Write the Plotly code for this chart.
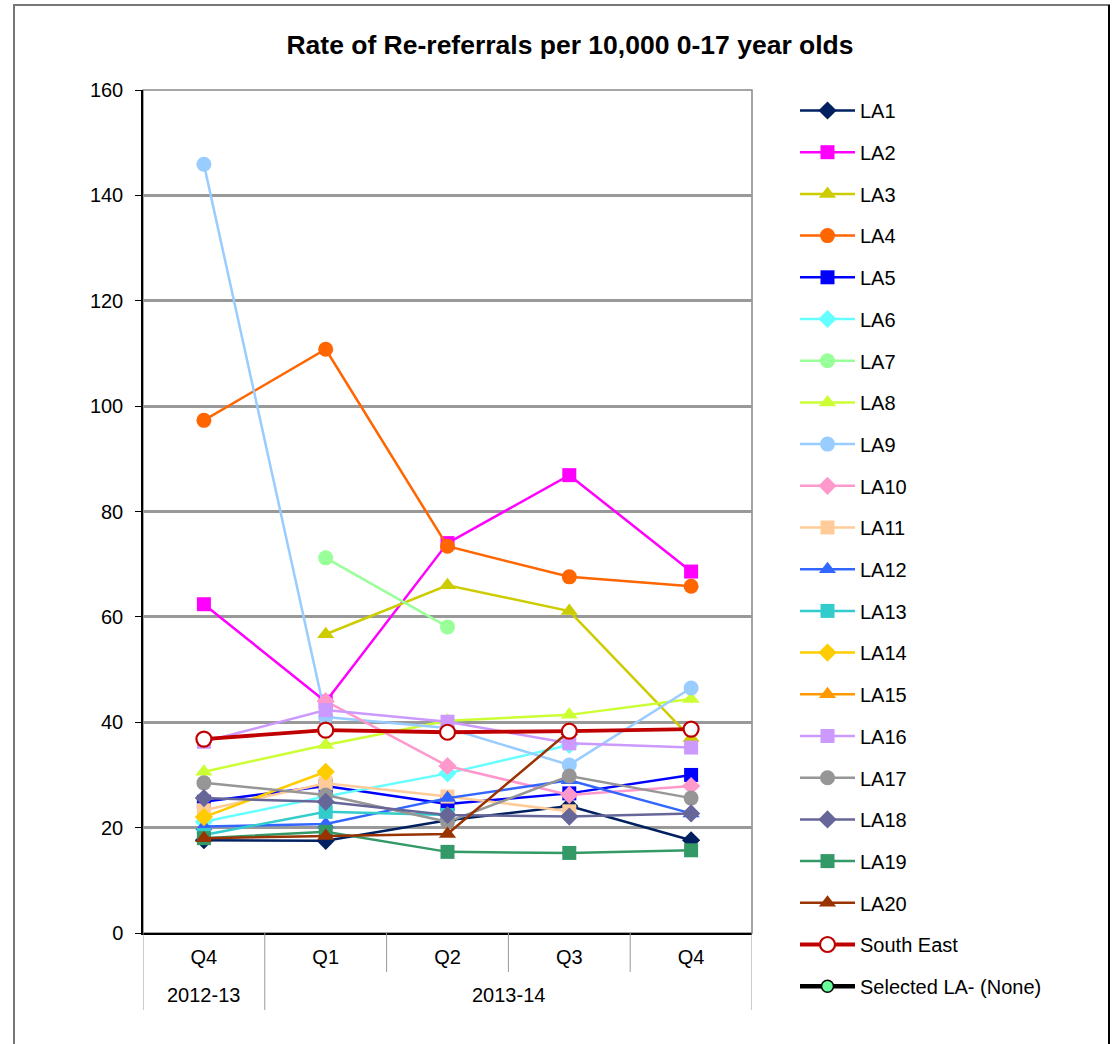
import plotly.graph_objects as go

years = ["2012-13", "2013-14", "2013-14", "2013-14", "2013-14"]
quarters = ["Q4", "Q1", "Q2", "Q3", "Q4"]

la1 = [17.6, 17.5, 21.4, 24.1, 17.6]
la2 = [62.4, 43.9, 74.0, 86.9, 68.6]
la3 = [None, 56.7, 66.0, 61.1, 37.0]
la4 = [97.3, 110.8, 73.4, 67.6, 65.8]
la5 = [24.9, 27.9, 24.5, 26.5, 30.0]
la6 = [21.1, 25.9, 30.3, 35.7, None]
la7 = [None, 71.2, 58.1, None, None]
la8 = [30.6, 35.7, 40.3, 41.4, 44.4]
la9 = [145.9, 41.0, 38.9, 31.9, 46.5]
la10 = [None, 44.0, 31.7, 26.2, 27.9]
la11 = [23.3, 28.4, 25.9, 23.1, None]
la12 = [20.2, 20.7, 25.6, 29.0, 22.7]
la13 = [18.6, 23.0, 22.4, None, None]
la14 = [22.0, 30.6, None, None, None]
la15 = [None, None, None, None, None]
la16 = [36.3, 42.3, 40.1, 36.0, 35.2]
la17 = [28.5, 26.2, 21.1, 29.8, 25.6]
la18 = [25.6, 24.9, 22.4, 22.1, 22.7]
la19 = [18.0, 19.2, 15.4, 15.2, 15.7]
la20 = [18.0, 18.4, 18.8, 38.3, None]
south_east = [36.8, 38.5, 38.1, 38.3, 38.7]
selected = [None, None, None, None, None]

series = [
    ("LA1", la1, "#002060", "diamond", 14),
    ("LA2", la2, "#FF00FF", "square", 14),
    ("LA3", la3, "#CCCC00", "triangle-up", 15),
    ("LA4", la4, "#FF6600", "circle", 15),
    ("LA5", la5, "#0000FF", "square", 14),
    ("LA6", la6, "#66FFFF", "diamond", 14),
    ("LA7", la7, "#99FF99", "circle", 15),
    ("LA8", la8, "#CCFF33", "triangle-up", 15),
    ("LA9", la9, "#99CCFF", "circle", 15),
    ("LA10", la10, "#FF99CC", "diamond", 14),
    ("LA11", la11, "#FFCC99", "square", 14),
    ("LA12", la12, "#3366FF", "triangle-up", 15),
    ("LA13", la13, "#33CCCC", "square", 14),
    ("LA14", la14, "#FFCC00", "diamond", 14),
    ("LA15", la15, "#FF9900", "triangle-up", 15),
    ("LA16", la16, "#CC99FF", "square", 14),
    ("LA17", la17, "#969696", "circle", 15),
    ("LA18", la18, "#666699", "diamond", 14),
    ("LA19", la19, "#339966", "square", 14),
    ("LA20", la20, "#993300", "triangle-up", 15),
]

# unique category keys built from year + quarter; quarters shown as tick text
cats = [f"{y} {q}" for y, q in zip(years, quarters)]

fig = go.Figure()
for name, vals, col, sym, sz in series:
    fig.add_trace(go.Scatter(
        x=cats, y=vals, name=name, mode="lines+markers",
        line=dict(color=col, width=2.5),
        marker=dict(symbol=sym, size=sz, color=col),
        legendgroup=name, connectgaps=False,
    ))

fig.add_trace(go.Scatter(
    x=cats, y=south_east, name="South East", mode="lines+markers",
    line=dict(color="#C00000", width=3.8),
    marker=dict(symbol="circle", size=15, color="white", line=dict(color="#C00000", width=2.2)),
    legendgroup="South East",
))
fig.add_trace(go.Scatter(
    x=cats, y=selected, name="Selected LA- (None)", mode="lines+markers",
    line=dict(color="black", width=4.5),
    marker=dict(symbol="circle", size=12, color="#66FF99", line=dict(color="black", width=1.5)),
    legendgroup="Selected",
))

L, R, T, B = 143, 752, 90, 933
W, H = 1112, 1044
pw, ph = R - L, B - T

def px_x(p):
    return (p - L) / pw

def px_y(p):
    return (B - p) / ph

fig.update_layout(
    width=W, height=H,
    margin=dict(l=L, r=W - R, t=T, b=H - B),
    paper_bgcolor="white", plot_bgcolor="white",
    font=dict(family="Liberation Sans, Arial, sans-serif", size=20, color="black"),
    title=dict(text="<b>Rate of Re-referrals per 10,000 0-17 year olds</b>",
               x=570 / W, xanchor="center", y=1 - 45 / H, yanchor="middle",
               font=dict(size=26.5, color="black")),
    showlegend=True,
    legend=dict(x=px_x(795), xanchor="left", y=px_y(91), yanchor="top",
                traceorder="grouped", tracegroupgap=12.7, itemwidth=55,
                maxheight=1040,
                font=dict(size=20), bgcolor="rgba(0,0,0,0)"),
    xaxis=dict(type="category", categoryorder="array", categoryarray=cats,
               tickmode="array", tickvals=cats, ticktext=quarters,
               showline=True, linecolor="black", linewidth=1.5,
               ticks="outside", ticklen=5, tickcolor="rgba(0,0,0,0)",
               showgrid=False, tickfont=dict(size=20),
               range=[-0.5, len(cats) - 0.5]),
    yaxis=dict(range=[0, 160], dtick=20, showline=True, linecolor="black", linewidth=1.5,
               ticks="outside", ticklen=6, tickcolor="black", ticklabelstandoff=8,
               showgrid=True, gridcolor="#999999", gridwidth=2.5,
               zeroline=False, tickfont=dict(size=20)),
)

# category boundary lines (Excel-style multi-level axis)
n = len(cats)
for i in range(n + 1):
    is_group_edge = (i == 0 or i == n or years[i] != years[i - 1])
    bottom = 1010 if is_group_edge else 972
    fig.add_shape(type="line", xref="x", yref="paper", x0=i - 0.5, x1=i - 0.5,
                  y0=px_y(933), y1=px_y(bottom), line=dict(color="#999", width=1))

# year group labels
groups = []
for i, y in enumerate(years):
    if groups and groups[-1][0] == y:
        groups[-1][1].append(i)
    else:
        groups.append([y, [i]])
for y, idx in groups:
    fig.add_annotation(x=sum(idx) / len(idx), xref="x", y=px_y(995), yref="paper",
                       text=y, showarrow=False, font=dict(size=20),
                       xanchor="center", yanchor="middle")

# plot-area frame and outer chart border
fig.add_shape(type="rect", xref="paper", yref="paper", x0=0, x1=1, y0=0, y1=1,
              line=dict(color="#888", width=1.5), layer="below")
fig.add_shape(type="rect", xref="paper", yref="paper",
              x0=px_x(14), x1=px_x(1109), y0=px_y(1060), y1=px_y(5),
              line=dict(color="#777", width=2), layer="below")
fig.add_shape(type="line", xref="paper", yref="paper",
              x0=px_x(1109), x1=px_x(1109), y0=px_y(1060), y1=px_y(5),
              line=dict(color="black", width=2), layer="below")

fig.write_html("out.html", config={"displayModeBar": False},
               post_script="document.body.style.margin='0';document.body.style.overflow='hidden';")
